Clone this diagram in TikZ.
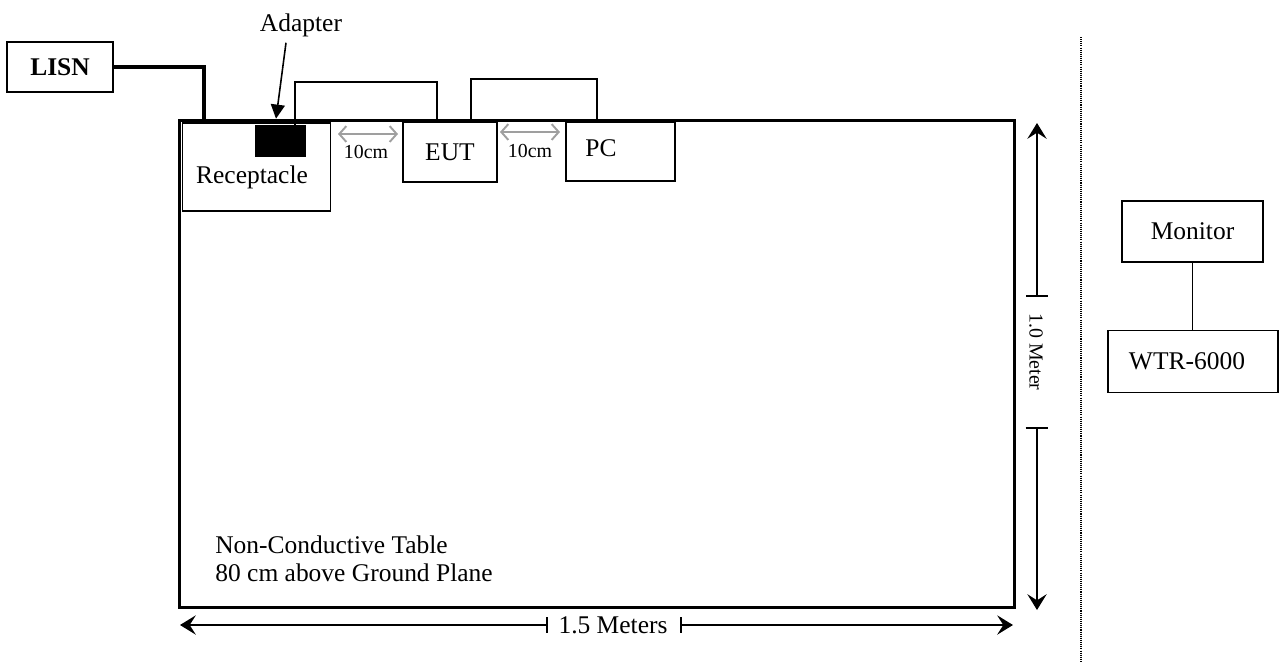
\documentclass[tikz,border=0pt]{standalone}
\usepackage{fontspec}
\setmainfont{Liberation Serif}
\usepackage{tikz}
\usetikzlibrary{arrows.meta}

\begin{document}
\begin{tikzpicture}[
  x=0.02cm, y=-0.02cm,
  every node/.style={font=\fontsize{14.5}{16}\selectfont},
  box/.style={draw, line width=1.1pt, inner sep=0pt},
  tablebox/.style={draw, line width=1.7pt, inner sep=0pt},
  cable/.style={line width=1.9pt},
  wire/.style={line width=1.1pt},
  gap/.style={{Straight Barb[length=4pt,width=9pt]}-{Straight Barb[length=4pt,width=9pt]}, gray!75, line width=1.1pt},
  dimline/.style={line width=0.9pt},
  dimtip/.tip={Stealth[length=9pt,width=11pt,inset=3.5pt]},
  pointer/.style={-{Triangle[length=8pt,width=8pt]}, line width=0.9pt},
  divider/.style={line width=0.7pt, dash pattern=on 0.6pt off 0.6pt},
  small/.style={font=\fontsize{11.3}{13}\selectfont, inner sep=0pt}
]
\useasboundingbox (0,0) rectangle (1279,664);

% table and what stands on it
\node[tablebox, minimum width=16.7cm, minimum height=9.76cm] (table) at (597,364) {};
\node[box, minimum width=2.96cm, minimum height=1.76cm] (rec) at (256.5,167) {};
\node (recText) at (252,177) {Receptacle};
\node[fill=black, inner sep=0pt, minimum width=1.02cm, minimum height=0.64cm] (adp) at (280.5,141) {};
\node[box, minimum width=1.88cm, minimum height=1.2cm] (eut) at (450,152) {EUT};
\node[box, minimum width=2.18cm, minimum height=1.18cm] (pc) at (620.5,151.5) {};
\node (pcText) at (601,148) {PC};
\node[align=left, anchor=west, inner sep=0pt, font=\fontsize{14.5}{15.9}\selectfont] (tableText) at (215,559) {Non-Conductive Table\\80 cm above Ground Plane};

% LISN and adapter
\node[box, minimum width=2.12cm, minimum height=1cm] (lisn) at (60,67) {\bfseries LISN};
\node (adpText) at (301,25) {Adapter};
\coordinate (lisnDrop) at (204,120);
\draw[cable] (lisn.east) -| (lisnDrop);
\draw[pointer] ([xshift=-0.3cm]adpText.south) -- ([xshift=-0.09cm,yshift=0.12cm]adp.north);

% cables over the table
\draw[wire] ([xshift=0.29cm]adp.north) -- ++(0,-43) -| ([xshift=-0.26cm]eut.north);
\draw[wire] ([xshift=0.42cm]eut.north) -- ++(0,-42) -| ([xshift=-0.47cm]pc.north);

% spacing marks
\node[small] (gapA) at (366,152) {10cm};
\node[small] (gapB) at (530,151) {10cm};
\draw[gap] ([shift={(-28,-18)}]gapA.center) -- ([shift={(32,-18)}]gapA.center);
\draw[gap] ([shift={(-30,-19)}]gapB.center) -- ([shift={(30,-19)}]gapB.center);

% dimensions
\coordinate (vTop) at (1037,123);
\coordinate (vTickA) at (1037,297);
\coordinate (vTickB) at (1037,427);
\coordinate (vBot) at (1037,610);
\node[small, rotate=-90] (vText) at (1036,352) {1.0 Meter};
\draw[dimline, {Bar[width=12pt]}-dimtip] (vTickA) -- (vTop);
\draw[dimline, {Bar[width=13pt]}-dimtip] (vTickB) -- (vBot);

\coordinate (hLeft) at (180,625);
\coordinate (hBarA) at (548,625);
\coordinate (hBarB) at (680,625);
\coordinate (hRight) at (1013,625);
\node (hText) at (613,625) {1.5 Meters};
\draw[dimline, {Bar[width=9pt]}-dimtip] (hBarA) -- (hLeft);
\draw[dimline, {Bar[width=9pt]}-dimtip] (hBarB) -- (hRight);

% divider and receiver side
\coordinate (divTop) at (1081,37);
\coordinate (divBot) at (1081,663);
\draw[divider] (divTop) -- (divBot);
\node[box, minimum width=2.82cm, minimum height=1.22cm] (mon) at (1192.5,231.5) {Monitor};
\node[box, minimum width=3.4cm, minimum height=1.24cm] (wtr) at (1193,361.5) {\hspace*{-0.24cm}WTR-6000};
\draw[wire] (mon.south) -- (mon.south |- wtr.north);
\end{tikzpicture}
\end{document}
